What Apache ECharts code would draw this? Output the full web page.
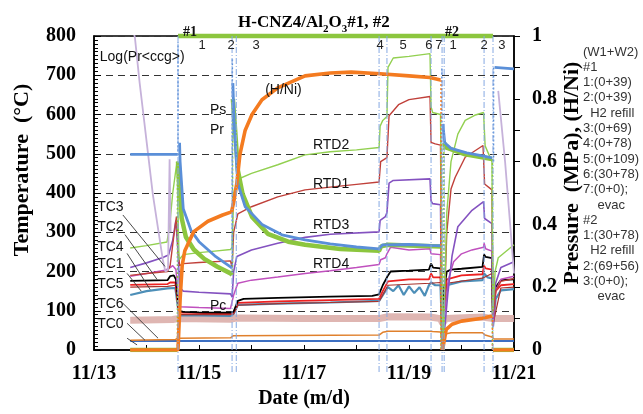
<!DOCTYPE html>
<html><head><meta charset="utf-8">
<script src="https://cdn.jsdelivr.net/npm/echarts/dist/echarts.min.js"></script>
<style>html,body{margin:0;padding:0;background:#fff}#c{width:643px;height:414px}</style>
</head><body><div id="c"></div>
<script>
// ---------- data (x = day of November, y = value) ----------
const xTicks = [13, 15, 17, 19, 21];
const hnData = [[13.69,0],[14.6,0],[14.62,0.08],[14.64,0.16],[14.68,0.27],[14.73,0.316],[14.9,0.377],[15.17,0.41],[15.45,0.43],[15.62,0.44],[15.66,0.47],[15.72,0.53],[15.78,0.623],[15.88,0.70],[16.01,0.75],[16.2,0.797],[16.5,0.835],[17.02,0.873],[17.5,0.882],[17.9,0.885],[18.45,0.88],[19.0,0.873],[19.4,0.868],[19.6,0.86],null,[19.64,0],[19.66,0.02],[19.71,0.066],[19.82,0.082],[20.0,0.092],[20.4,0.101],[20.58,0.108],null,[20.6,0],[21,0]];
const hnTrans = [[19.61,0.86],[19.61,0],null,[20.59,0.108],[20.59,0]];
const psData = [[13.69,0.623],[14.595,0.623],null,[14.63,0.66],[14.64,0.6],[14.7,0.45],[14.85,0.38],[15.0,0.345],[15.3,0.30],[15.6,0.265],[15.63,0.26],null,[15.645,0.85],[15.67,0.72],[15.74,0.53],[15.88,0.456],[16.2,0.40],[16.58,0.367],[17.02,0.351],[17.5,0.338],[18.0,0.328],[18.43,0.322],[18.5,0.335],[19.0,0.336],[19.4,0.333],[19.6,0.332],null,[19.645,0.72],[19.68,0.66],[19.8,0.642],[20.1,0.628],[20.4,0.618],[20.58,0.612],null,[20.63,0.9],[21,0.895]];
const psTrans = [[14.6,0.62],[14.6,0.98],null,[15.635,0.27],[15.635,0.93],null,[19.625,0.33],[19.625,0.9],null,[20.61,0.6],[20.61,0.9]];
const prData = [[13.69,0],[14.585,0],null,[14.6,0.6],[14.63,0.52],[14.67,0.42],[14.75,0.36],[14.9,0.32],[15.1,0.29],[15.35,0.265],[15.6,0.244],[15.63,0.24],null,[15.645,0.8],[15.68,0.72],[15.74,0.573],[15.83,0.497],[16.01,0.424],[16.31,0.37],[16.7,0.345],[17.02,0.335],[17.69,0.322],[18.43,0.316],[18.47,0.33],[18.6,0.335],[19.0,0.333],[19.6,0.33],null,[19.67,0.66],[19.7,0.645],[20.07,0.623],[20.58,0.608],null,[20.6,0],[21,0]];
const prTrans = [[14.59,0],[14.59,0.6],null,[15.64,0.24],[15.64,0.8],null,[19.61,0.33],[19.61,0],null,[19.665,0],[19.665,0.66],null,[20.59,0.608],[20.59,0]];
const pcData = [[13.69,0.095],[14.5,0.097],[14.6,0.1],[15.6,0.098],[15.7,0.102],[17,0.1],[18.43,0.1],[18.6,0.106],[19.4,0.105],[19.6,0.1],[19.64,0.085],[19.7,0.1],[20.4,0.105],[20.6,0.1],[21,0.1]];
const runBar = [[14.6,1],[20.6,1]];

const rtd2 = [[13.69,260],[14.0,266],[14.39,275],[14.42,300],[14.45,330],[14.5,400],[14.58,480],[14.6,350],[14.62,230],[14.7,243],[15.0,248],[15.3,252],[15.6,256],[15.63,262],[15.66,400],[15.74,435],[16.0,450],[16.5,472],[17.02,497],[17.5,505],[18.0,510],[18.43,516],[18.45,570],[18.5,585],[18.58,595],[18.6,720],[18.7,744],[19.0,748],[19.4,755],[19.42,620],[19.45,605],[19.6,600],[19.63,200],[19.65,0],[19.67,100],[19.72,350],[19.8,480],[19.93,550],[20.07,585],[20.25,598],[20.42,605],[20.45,520],[20.58,480],[20.6,100],[20.64,200],[20.7,235],[21,268]];
const rtd1 = [[13.69,190],[14.0,195],[14.4,200],[14.45,215],[14.52,290],[14.57,340],[14.6,260],[14.63,215],[14.7,220],[15.0,223],[15.6,227],[15.63,210],[15.66,300],[15.74,347],[16.0,365],[16.5,390],[17.02,408],[17.5,415],[18.0,422],[18.43,428],[18.46,480],[18.58,490],[18.62,597],[18.8,625],[19.0,638],[19.4,646],[19.42,529],[19.5,525],[19.6,522],[19.63,40],[19.67,100],[19.72,300],[19.8,410],[19.88,440],[20.07,491],[20.41,521],[20.44,423],[20.58,408],[20.6,90],[20.65,150],[20.75,175],[21,182]];
const rtd3 = [[13.69,210],[14.0,222],[14.3,235],[14.42,242],[14.5,280],[14.56,330],[14.6,250],[14.63,160],[14.7,150],[15.0,147],[15.6,143],[15.63,135],[15.66,200],[15.72,238],[16.0,255],[16.5,272],[17.02,287],[17.5,295],[18.43,301],[18.45,330],[18.55,340],[18.58,350],[18.62,425],[18.7,432],[19.4,436],[19.42,380],[19.45,373],[19.6,370],[19.63,0],[19.67,40],[19.74,144],[19.82,240],[19.93,314],[20.2,356],[20.42,378],[20.44,335],[20.58,322],[20.6,80],[20.65,170],[20.75,210],[21,225]];
const rtd4 = [[13.69,188],[14.0,195],[14.35,203],[14.45,210],[14.5,215],[14.56,205],[14.6,150],[14.63,110],[15.0,108],[15.6,106],[15.63,104],[15.66,140],[15.74,170],[16.0,178],[16.5,186],[17.02,195],[17.5,202],[18.0,210],[18.43,218],[18.46,230],[18.55,235],[18.58,245],[18.65,262],[19.0,255],[19.4,258],[19.42,245],[19.6,243],[19.63,10],[19.67,80],[19.75,180],[19.85,225],[20.0,245],[20.2,255],[20.42,262],[20.43,272],[20.46,258],[20.58,252],[20.6,60],[20.65,150],[20.75,180],[21,188]];
const tcBlack = [[13.69,176],[14.4,178],[14.45,188],[14.52,190],[14.56,180],[14.62,100],[14.7,97],[15.0,96],[15.6,95],[15.66,98],[15.74,125],[15.85,130],[16.5,133],[17.5,136],[18.3,138],[18.43,142],[18.5,165],[18.6,190],[18.65,200],[19.0,202],[19.38,205],[19.42,220],[19.46,210],[19.6,208],[19.63,60],[19.66,150],[19.72,200],[19.8,205],[20.0,207],[20.4,212],[20.43,243],[20.46,237],[20.58,234],[20.6,80],[20.65,160],[20.75,178],[21,180]];
const tcRed = [[13.69,166],[14.4,168],[14.45,172],[14.55,172],[14.62,95],[15.6,93],[15.66,96],[15.74,120],[16.5,124],[17.5,127],[18.43,130],[18.5,150],[18.6,175],[19.0,180],[19.38,180],[19.42,195],[19.46,185],[19.6,185],[19.63,50],[19.66,140],[19.72,180],[20.0,190],[20.4,193],[20.43,215],[20.46,208],[20.58,205],[20.6,70],[20.65,150],[20.75,165],[21,168]];
const tcDarkRed = [[13.69,160],[14.4,162],[14.55,165],[14.62,90],[15.6,90],[15.66,92],[15.74,114],[16.5,118],[17.5,121],[18.43,124],[18.5,140],[18.6,165],[19.4,170],[19.6,172],[19.63,45],[19.72,170],[20.4,183],[20.58,195],[20.6,65],[20.75,158],[21,160]];
const tcTeal = [[13.69,140],[14.0,150],[14.4,157],[14.55,158],[14.62,88],[15.0,88],[15.6,87],[15.66,92],[15.74,115],[16.5,118],[17.5,121],[18.43,125],[18.5,140],[18.6,160],[18.7,150],[18.8,165],[18.9,140],[19.0,162],[19.1,145],[19.2,160],[19.3,138],[19.38,165],[19.42,172],[19.5,165],[19.6,165],[19.63,40],[19.66,120],[19.72,165],[20.0,175],[20.4,178],[20.43,195],[20.5,185],[20.58,182],[20.6,60],[20.65,130],[20.75,152],[21,155]];
const tcOrange = [[13.69,25],[14.55,27],[14.6,30],[15.6,31],[15.65,36],[18.43,38],[18.5,45],[18.6,48],[19.4,48],[19.45,47],[19.6,46],[19.63,25],[19.67,40],[19.8,44],[20.4,44],[20.45,38],[20.58,33],[20.62,28],[21,28]];
const tcBlue = [[13.69,23],[19.6,23],[19.63,20],[19.67,23],[21,23]];
const logPr = [[13.74,820],[13.78,795],[13.87,680],[13.97,567],[14.12,397],[14.31,230],[14.36,200],[14.41,205],[14.44,486],[14.46,300],null,[20.7,660],[20.83,480],[20.93,314],[21.0,195]];

const events = [14.6, 15.63, 15.71, 18.43, 18.58, 19.42, 19.63, 19.67, 20.43, 20.6];
const eventLabels = [['1',15.06],['2',15.61],['3',16.09],['4',18.45],['5',18.89],['6',19.38],['7',19.57],['1',19.84],['2',20.43],['3',20.77]];
const runLabels = [['#1',14.83],['#2',19.82]];
const annotTexts = [['Log(Pr<ccg>)',13.11,747],['TC3',13.06,365],['TC2',13.06,314],['TC4',13.06,263],['TC1',13.06,218],['TC5',13.06,167],['TC6',13.06,116],['TC0',13.06,66],['Ps',15.21,610],['Pr',15.21,559],['(H/Ni)',16.26,663],['RTD2',17.17,521],['RTD1',17.17,423],['RTD3',17.17,319],['RTD4',17.17,218],['Pc',15.21,111]];
const arrows = [[13.55,344,14.35,213],[13.59,294,14.2,180],[13.63,246,14.07,154],[13.63,195,13.9,150],[13.55,119,14.22,30],[13.63,68,13.97,25],[13.63,30,13.82,13]];
const sideNotes = ['(W1+W2)','#1','1:(0+39)','2:(0+39)','  H2 refill','3:(0+69)','4:(0+78)','5:(0+109)','6:(30+78)','7:(0+0);','    evac','#2','1:(30+78)','  H2 refill','2:(69+56)','3:(0+0);','    evac'];

// ---------- chart ----------
const serif = '"Liberation Serif","Times New Roman",serif';
const sans = '"Liberation Sans",Arial,sans-serif';
const chart = echarts.init(document.getElementById('c'), null, {width:643, height:414});

function ln(data, color, width, yi, z, extra) {
  return Object.assign({type:'line', data, yAxisIndex: yi, showSymbol:false, symbol:'none',
    lineStyle:{color, width}, z, animation:false, silent:true, connectNulls:false}, extra||{});
}
const dotted = (color, w) => ({lineStyle:{color, width:w, type:[2,2]}});

const option = {
  animation:false,
  backgroundColor:'#fff',
  title:{
    text:'{a|H-CNZ4/Al}{s|2}{a|O}{s|3}{a|#1, #2}',
    left:233, top:6,
    textStyle:{rich:{
      a:{fontFamily:serif, fontWeight:'bold', fontSize:17, color:'#000', lineHeight:24, verticalAlign:'middle'},
      s:{fontFamily:serif, fontWeight:'bold', fontSize:11, color:'#000', lineHeight:24, verticalAlign:'bottom'}
    }}
  },
  grid:{left:94, right:129, top:36, bottom:62, show:true, borderColor:'#000', borderWidth:1.5, backgroundColor:'transparent'},
  xAxis:{type:'value', min:13, max:21, interval:1,
    axisLine:{lineStyle:{color:'#000', width:1.5}},
    axisTick:{inside:true, length:5, lineStyle:{color:'#000'}},
    axisLabel:{margin:14, color:'#000', fontFamily:serif, fontWeight:'bold', fontSize:20,
      formatter:v => xTicks.indexOf(Math.round(v)) >= 0 ? '11/' + Math.round(v) : ''},
    splitLine:{show:false},
    name:'Date (m/d)', nameLocation:'middle', nameGap:39,
    nameTextStyle:{color:'#000', fontFamily:serif, fontWeight:'bold', fontSize:20}
  },
  yAxis:[
    {type:'value', min:0, max:800, interval:100, position:'left',
      axisLine:{show:true, lineStyle:{color:'#000', width:1.5}},
      axisTick:{show:true, inside:true, length:7, lineStyle:{color:'#000'}},
      minorTick:{show:true, splitNumber:10, length:4, lineStyle:{color:'#000'}},
      axisLabel:{margin:18, color:'#000', fontFamily:serif, fontWeight:'bold', fontSize:20},
      splitLine:{show:true, lineStyle:{color:'#333', type:[7,5], width:1}}
    },
    {type:'value', min:0, max:1, interval:0.1, position:'right',
      axisLine:{show:true, lineStyle:{color:'#000', width:1.5}},
      axisTick:{show:true, inside:false, length:6, lineStyle:{color:'#000'}},
      axisLabel:{margin:18, color:'#000', fontFamily:serif, fontWeight:'bold', fontSize:20,
        formatter:v => { const r = Math.round(v*10); if (r % 2) return ''; return r === 10 ? '1' : r === 0 ? '0' : (r/10).toFixed(1); }},
      splitLine:{show:false}
    }
  ],
  series:[
    ln(pcData, '#dcaeaa', 7, 1, 2, {lineStyle:{color:'#dcaeaa', width:7, opacity:0.9}}),
    ln(tcBlue, '#3d6fc2', 2, 0, 3),
    ln(tcOrange, '#e0802c', 1.5, 0, 3),
    ln(tcTeal, '#4d8fb8', 2.2, 0, 3),
    ln(tcDarkRed, '#a8322c', 1.2, 0, 3),
    ln(tcRed, '#ee2222', 1.8, 0, 3),
    ln(tcBlack, '#000000', 1.8, 0, 3),
    ln(rtd4, '#c050be', 1.5, 0, 4),
    ln(rtd3, '#8452c0', 1.6, 0, 4),
    ln(rtd1, '#c0403a', 1.4, 0, 4),
    ln(rtd2, '#92d050', 1.4, 0, 4),
    ln(logPr, '#c6b2da', 1.8, 0, 4),
    ln(prTrans, '#8cc63e', 1.2, 1, 5, dotted('#8cc63e', 1.5)),
    ln(prData, '#8cc63e', 4.5, 1, 5),
    ln(psTrans, '#5a8fd8', 1.2, 1, 6, dotted('#5a8fd8', 1.5)),
    ln(psData, '#5a8fd8', 2.8, 1, 6),
    ln(hnTrans, '#f47b20', 1.2, 1, 7, dotted('#f47b20', 1.5)),
    ln(hnData, '#f47b20', 3.6, 1, 7),
    ln(runBar, '#8cc63e', 4.5, 1, 8, {clip:false})
  ]
};
chart.setOption(option);

// ---------- annotations positioned through the axes ----------
const P0 = (x, y) => chart.convertToPixel({xAxisIndex:0, yAxisIndex:0}, [x, y]);
const g = [];
const yTop = P0(13, 800)[1], yBot = P0(13, 0)[1];
events.forEach(d => {
  const x = P0(d, 0)[0];
  g.push({type:'line', silent:true, z:20, shape:{x1:x, y1:yTop, x2:x, y2:yBot + 23},
    style:{stroke:'#86a9e2', lineWidth:1, lineDash:[6,2,1,2]}});
});
eventLabels.forEach(([t, d]) => {
  const p = P0(d, 777);
  g.push({type:'text', silent:true, z:30, style:{text:t, x:p[0], y:p[1], textAlign:'center', textVerticalAlign:'middle', verticalAlign:'middle', font:'13px ' + sans, fill:'#222'}});
});
runLabels.forEach(([t, d]) => {
  const p = P0(d, 808);
  g.push({type:'text', silent:true, z:30, style:{text:t, x:p[0], y:p[1], textAlign:'center', textVerticalAlign:'middle', verticalAlign:'middle', font:'bold 14px ' + serif, fill:'#111'}});
});
annotTexts.forEach(([t, d, v]) => {
  const p = P0(d, v);
  g.push({type:'text', silent:true, z:30, style:{text:t, x:p[0], y:p[1], textAlign:'left', textVerticalAlign:'middle', verticalAlign:'middle', font:'14px ' + sans, fill:'#111'}});
});
arrows.forEach(([a, b, c, d]) => {
  const p = P0(a, b), q = P0(c, d);
  g.push({type:'line', silent:true, z:25, shape:{x1:p[0], y1:p[1], x2:q[0], y2:q[1]}, style:{stroke:'#333', lineWidth:0.9}});
});
// axis titles
g.push({type:'text', silent:true, z:30, x:22, y:170, rotation:Math.PI/2,
  style:{text:'Temperature  (°C)', x:0, y:0, textAlign:'center', textVerticalAlign:'middle', verticalAlign:'middle', font:'bold 22px ' + serif, fill:'#000'}});
g.push({type:'text', silent:true, z:30, x:572, y:173, rotation:Math.PI/2,
  style:{text:'Pressure  (MPa), (H/Ni)', x:0, y:0, textAlign:'center', textVerticalAlign:'middle', verticalAlign:'middle', font:'bold 22px ' + serif, fill:'#000'}});
// side notes
sideNotes.forEach((t, i) => {
  g.push({type:'text', silent:true, z:30, style:{text:t, x:583, y:52 + i*15.3, textAlign:'left', textVerticalAlign:'middle', verticalAlign:'middle', font:'13px ' + sans, fill:'#333'}});
});
chart.setOption({graphic:g});
</script></body></html>
